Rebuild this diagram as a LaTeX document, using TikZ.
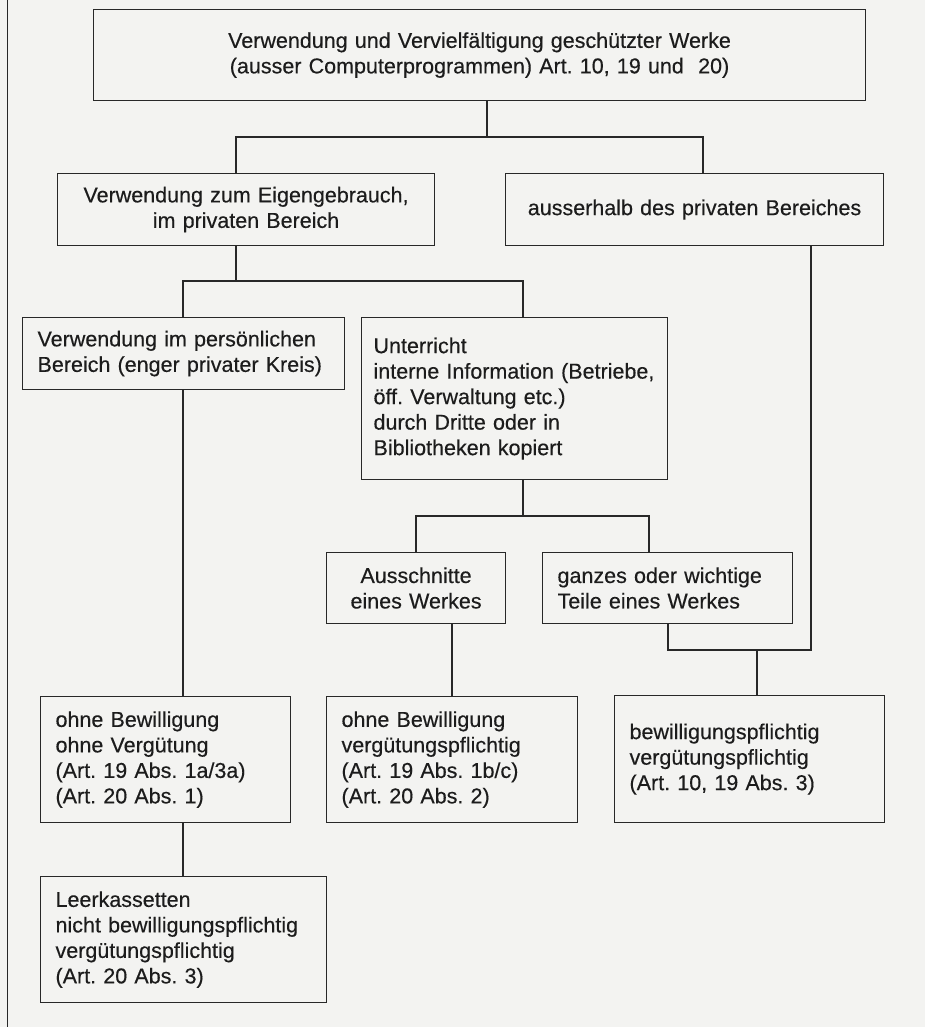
\documentclass[tikz,border=0pt]{standalone}
\usepackage{fontspec}
\setmainfont{Liberation Sans}
\newfontfamily\scanfont[FakeBold=0.35]{Liberation Sans}
\usepackage{tikz}
\usetikzlibrary{positioning}
\frenchspacing

\definecolor{bggray}{RGB}{243,243,241}
\definecolor{linegray}{RGB}{40,40,40}
\definecolor{textgray}{RGB}{28,28,28}

\tikzset{
  box/.style={draw=linegray, line width=1.1pt, anchor=north west,
    inner xsep=15pt, inner ysep=2pt, text=textgray,
    font=\scanfont\fontsize{21.5}{25.5}\selectfont},
  cbox/.style={box, align=center},
  lbox/.style={box, align=left},
  link/.style={draw=linegray, line width=1.1pt}
}

\begin{document}
\begin{tikzpicture}[x=1pt, y=-1pt]
\path[use as bounding box, fill=bggray] (0,0) rectangle (925,1027);
\draw[linegray, line width=1pt] (7,0) -- (7,1027);

\node[cbox, text width=742pt, minimum height=91pt] (werke) at (93,9)
  {Verwendung und Vervielfältigung geschützter Werke\\(ausser Computerprogrammen) Art. 10, 19 und~ 20)};
\node[cbox, text width=347pt, minimum height=72pt] (eigen) at (57,173)
  {Verwendung zum Eigengebrauch,\\im privaten Bereich};
\node[cbox, text width=348pt, minimum height=72pt] (ausser) at (505,173)
  {ausserhalb des privaten Bereiches};
\node[lbox, text width=292pt, minimum height=72pt] (pers) at (22,317)
  {Verwendung im persönlichen\\Bereich (enger privater Kreis)};
\node[lbox, inner xsep=12pt, text width=282pt, minimum height=162pt] (unter) at (361,317)
  {Unterricht\\interne Information (Betriebe,\\öff. Verwaltung etc.)\\durch Dritte oder in\\Bibliotheken kopiert\\[-14pt]};
\node[cbox, text width=149pt, minimum height=71pt] (aussch) at (326,552)
  {Ausschnitte\\eines Werkes};
\node[lbox, text width=220pt, minimum height=71pt] (ganz) at (542,552)
  {ganzes oder wichtige\\Teile eines Werkes};
\node[lbox, text width=220pt, minimum height=126pt] (ohneohne) at (40,696)
  {ohne Bewilligung\\ohne Vergütung\\(Art. 19 Abs. 1a/3a)\\(Art. 20 Abs. 1)};
\node[lbox, text width=221pt, minimum height=126pt] (ohneverg) at (326,696)
  {ohne Bewilligung\\vergütungspflichtig\\(Art. 19 Abs. 1b/c)\\(Art. 20 Abs. 2)};
\node[lbox, text width=240pt, minimum height=127pt] (bewill) at (614,695)
  {bewilligungspflichtig\\vergütungspflichtig\\(Art. 10, 19 Abs. 3)};
\node[lbox, text width=256pt, minimum height=126pt] (leer) at (40,876)
  {Leerkassetten\\nicht bewilligungspflichtig\\vergütungspflichtig\\(Art. 20 Abs. 3)};

% branch points
\coordinate (k1) at (487,137);
\coordinate (k1l) at (236,137);
\coordinate (k1r) at (703,137);
\coordinate (k2) at (236,281);
\coordinate (k2l) at (183,281);
\coordinate (k2r) at (523,281);
\coordinate (k3) at (523,516);
\coordinate (k3l) at (416,516);
\coordinate (k3r) at (649,516);
\coordinate (k4) at (452,660);
\coordinate (k5) at (757,650);
\coordinate (k5l) at (668,650);
\coordinate (k5r) at (811,650);

\draw[link] (werke.south -| k1) -- (k1);
\draw[link] (eigen.north -| k1l) -- (k1l) -- (k1r) -- (ausser.north -| k1r);

\draw[link] (eigen.south -| k2) -- (k2);
\draw[link] (pers.north -| k2l) -- (k2l) -- (k2r) -- (unter.north -| k2r);

\draw[link] (unter.south -| k3) -- (k3);
\draw[link] (aussch.north -| k3l) -- (k3l) -- (k3r) -- (ganz.north -| k3r);

\draw[link] (pers.south -| k2l) -- (ohneohne.north -| k2l);
\draw[link] (aussch.south -| k4) -- (ohneverg.north -| k4);
\draw[link] (ohneohne.south -| k2l) -- (leer.north -| k2l);

\draw[link] (ausser.south -| k5r) -- (k5r) -- (k5l) -- (ganz.south -| k5l);
\draw[link] (k5) -- (bewill.north -| k5);
\end{tikzpicture}
\end{document}
